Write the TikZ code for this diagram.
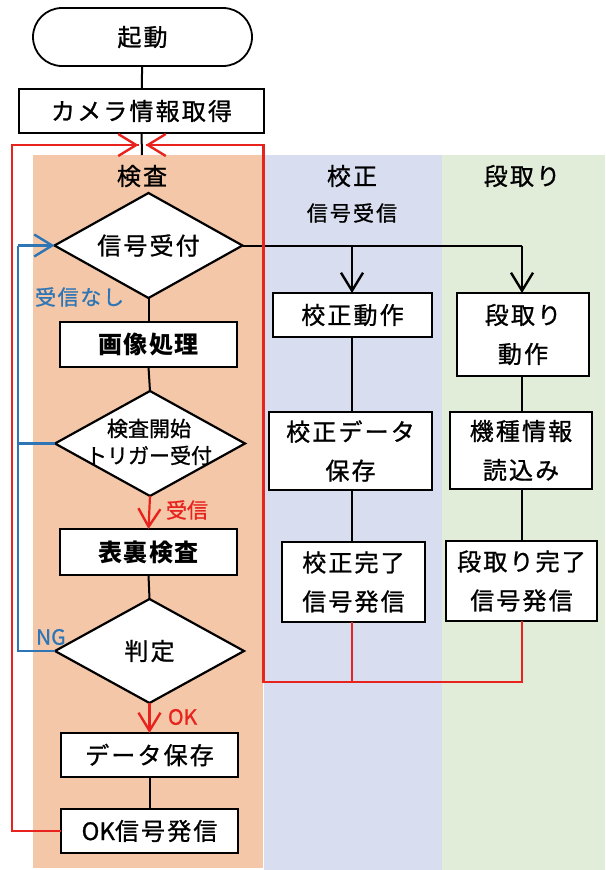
\documentclass[tikz,border=0pt]{standalone}
\usepackage{fontspec}
\setmainfont{Noto Sans CJK JP}[UprightFeatures={FakeBold=1}]
\usetikzlibrary{shapes.misc,shapes.geometric,arrows.meta}
\definecolor{pOrange}{HTML}{F3C7A8}
\definecolor{pBlue}{HTML}{D8DEF0}
\definecolor{pGreen}{HTML}{E1EDD9}
\definecolor{lRed}{HTML}{E8231E}
\definecolor{lBlue}{HTML}{2E75B6}
\tikzset{
  every node/.style={inner sep=0pt, outer sep=0pt},
  bigtxt/.style={font=\fontsize{24}{39}\selectfont\addfontfeature{LetterSpace=9}},
  midtxt/.style={font=\fontsize{21}{27}\selectfont},
  boldtxt/.style={font=\fontsize{24}{39}\selectfont\bfseries\addfontfeature{LetterSpace=5}},
  box/.style={draw=black, line width=2.2pt, fill=white, rectangle, bigtxt, align=center},
  term/.style={draw=black, line width=1.8pt, fill=white, rounded rectangle, bigtxt},
  dia/.style={draw=black, line width=2.2pt, fill=white, diamond},
  conn/.style={draw=black, line width=2pt},
  redc/.style={draw=lRed, line width=2.2pt},
  bluec/.style={draw=lBlue, line width=2.2pt},
  vtip/.style={-{Straight Barb[length=18pt,width=22pt,line width=2.4pt]}},
  lab/.style={font=\fontsize{21}{24}\selectfont},
}
\begin{document}
\begin{tikzpicture}[x=1pt,y=-1pt]
\useasboundingbox (0,0) rectangle (605,870);
% panels
\fill[pOrange] (33,155) rectangle (263,868);
\fill[pBlue] (264,155) rectangle (442,870);
\fill[pGreen] (442,155) rectangle (605,870);
\node[bigtxt] (tKensa) at (142,176) {検査};
\node[bigtxt] (tKosei) at (352,176) {校正};
\node[font=\fontsize{21}{24}\selectfont\addfontfeature{LetterSpace=10}] (tKoseiSig) at (352,213) {信号受信};
\node[bigtxt] (tDandori) at (522,176) {段取り};

% top
\node[term, minimum width=219pt, minimum height=58pt] (start) at (142.5,37) {起動};
\node[box, minimum width=245pt, minimum height=44pt] (cam) at (141.5,111) {カメラ情報取得};
\coordinate (mergeL) at (138.5,145);
\coordinate (mergeR) at (145.5,145);
\coordinate (panelTop) at (142,155);
\draw[conn] (start) -- (cam);
\draw[conn] (cam.south) -- (panelTop);

% inspection column
\node[dia, minimum width=188pt, minimum height=105pt] (d1) at (148.5,245.5) {};
\node[bigtxt] (d1t) at (d1) {信号受付};
\node[box, boldtxt, minimum width=177pt, minimum height=45pt] (img) at (148.5,344.5) {画像処理};
\node[dia, minimum width=190pt, minimum height=105pt] (d2) at (150,443.5) {};
\node[midtxt, align=center] (d2t) at (149,442) {検査開始\\トリガー受付};
\node[box, boldtxt, minimum width=177pt, minimum height=46pt] (insp) at (148.5,552) {表裏検査};
\node[dia, minimum width=189pt, minimum height=104pt] (d3) at (149.5,651) {};
\node[bigtxt] (d3t) at (149.5,651) {判定};
\node[box, minimum width=177pt, minimum height=44pt] (save) at (149.5,755) {データ保存};
\node[box, minimum width=177pt, minimum height=44pt] (oksig) at (149.5,831) {\addfontfeature{LetterSpace=0}OK\addfontfeature{LetterSpace=9}信号発信};

\draw[conn] (d1.south) -- (img.north);
\draw[conn] (img.south) -- (d2.north);
\draw[redc, vtip] (d2.south) -- (insp.north);
\draw[conn] (insp.south) -- (d3.north);
\draw[redc, vtip] (d3.south) -- (save.north);
\draw[conn] (save.south) -- (oksig.north);

\node[lab, text=lRed, anchor=west] (lRecv) at (166,510) {受信};
\node[lab, text=lRed, anchor=west] (lOK) at (168,717) {OK};
\node[lab, text=lBlue, anchor=west] (lNG) at (36,637) {NG};
\node[lab, text=lBlue, anchor=west, font=\fontsize{21}{24}\selectfont\addfontfeature{LetterSpace=8}] (lNone) at (35,297) {受信なし};

% blue loops
\coordinate (bTop) at (18,245.5);
\coordinate (bMid) at (18,443.5);
\coordinate (bBot) at (18,651);
\draw[bluec] (d3.west) -- (bBot) -- (bTop);
\draw[bluec] (d2.west) -- (bMid);
\draw[bluec, vtip] (bTop) -- (d1.west);

% right columns
\node[box, minimum width=159pt, minimum height=44pt] (kAct) at (352.5,315) {校正動作};
\node[box, minimum width=163pt, minimum height=78pt] (kSave) at (350.5,451) {校正データ\\保存};
\node[box, minimum width=143pt, minimum height=80pt] (kDone) at (353.5,582) {校正完了\\信号発信};
\node[box, minimum width=132pt, minimum height=83pt] (dAct) at (523,334.5) {段取り\\動作};
\node[box, minimum width=142pt, minimum height=77pt] (dRead) at (521,450.5) {機種情報\\読込み};
\node[box, minimum width=151pt, minimum height=80pt] (dDone) at (521.5,581) {段取り完了\\信号発信};

\coordinate (brK) at (352,245.5);
\coordinate (brD) at (522,245.5);
\draw[conn] (d1.east) -- (brD);
\draw[conn, vtip] (brK) -- (brK |- kAct.north);
\draw[conn, vtip] (brD) -- (brD |- dAct.north);
\draw[conn] (kAct.south -| brK) -- (kSave.north -| brK);
\draw[conn] (kSave.south -| brK) -- (kDone.north -| brK);
\draw[conn] (dAct.south -| brD) -- (dRead.north -| brD);
\draw[conn] (dRead.south -| brD) -- (dDone.north -| brD);

% red return loops
\coordinate (rL1) at (12,831);
\coordinate (rL2) at (12,145);
\coordinate (rK) at (352,682);
\coordinate (rD) at (522,682);
\coordinate (rC) at (263.5,682);
\coordinate (rR) at (263.5,145);
\draw[redc] (oksig.west) -- (rL1) -- (rL2) -- (mergeL);
\draw[redc] (kDone.south -| rK) -- (rK);
\draw[redc] (dDone.south -| rD) -- (rD) -- (rC) -- (rR) -- (mergeR);
\draw[redc, vtip] (110,145) -- (mergeL);
\draw[redc, vtip] (175,145) -- (mergeR);
\end{tikzpicture}
\end{document}
